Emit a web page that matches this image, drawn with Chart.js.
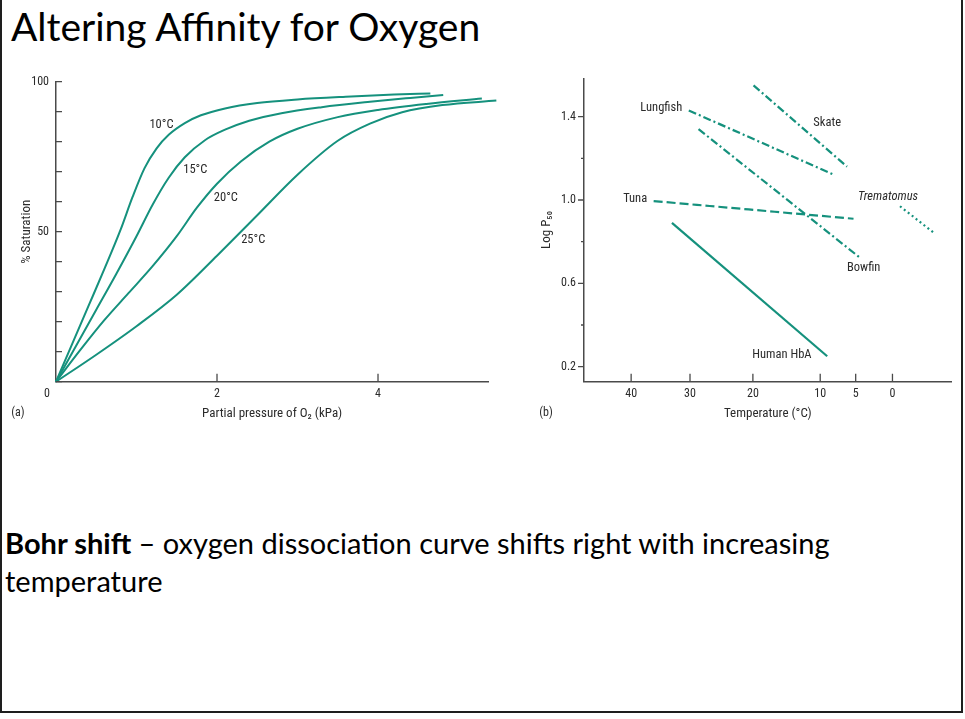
<!DOCTYPE html>
<html>
<head>
<meta charset="utf-8">
<title>Altering Affinity for Oxygen</title>
<script src="https://cdn.jsdelivr.net/npm/chart.js@4.4.1/dist/chart.umd.min.js"></script>
<style>
  html, body { margin: 0; padding: 0; background: #fff; }
  #slide { position: relative; width: 965px; height: 719px; overflow: hidden; background: #fff; }
  #frame { position: absolute; left: 0; top: -10px; width: 963px; height: 723px; box-sizing: border-box;
           border: 2.5px solid #1e1e1e; z-index: 2; }
  #heading { position: absolute; left: 11px; top: 3px; margin: 0; font: 39px/1.2 Lato, 'Open Sans', sans-serif;
             font-weight: normal; color: #000; white-space: nowrap; }
  #note { position: absolute; left: 5px; top: 524px; width: 900px; font: 29px/38px Lato, 'Open Sans', sans-serif; color: #000; }
  #chartA { position: absolute; left: 0; top: 60px; }
  #chartB { position: absolute; left: 520px; top: 60px; }
</style>
</head>
<body>
<div id="slide">
  <div id="frame"></div>
  <h1 id="heading">Altering Affinity for Oxygen</h1>
  <canvas id="chartA" width="520" height="370"></canvas>
  <canvas id="chartB" width="445" height="370"></canvas>
  <div id="note"><b>Bohr shift</b> – oxygen dissociation curve shifts right with increasing temperature</div>
</div>
<script>
// ---- (a) oxygen dissociation curves: partial pressure O2 (kPa) vs % saturation
const pressure10 = [0, 0.2, 0.4, 0.6, 0.8, 0.95, 1.1, 1.25, 1.4, 1.6, 1.8, 2.1, 2.5, 3.0, 3.6, 4.2, 4.65];
const saturation10 = [0, 12.5, 25, 37.5, 50.5, 61.5, 71.2, 77.8, 82.3, 86.2, 88.8, 91.1, 92.9, 94.1, 95.0, 95.7, 96.1];
const pressure15 = [0, 0.25, 0.5, 0.75, 1.0, 1.2, 1.4, 1.6, 1.85, 2.1, 2.4, 2.8, 3.3, 3.9, 4.4, 4.81];
const saturation15 = [0, 12, 24, 36, 48.5, 59, 68, 74.8, 80.5, 84, 87, 89.5, 91.5, 93.3, 94.6, 95.6];
const pressure20 = [0, 0.3, 0.6, 0.9, 1.2, 1.5, 1.75, 2.0, 2.3, 2.65, 3.0, 3.5, 4.0, 4.6, 5.29];
const saturation20 = [0, 10.5, 20.5, 29.5, 38.5, 48.5, 58, 66, 73.5, 80, 84.3, 88.2, 90.6, 92.6, 94.4];
const pressure25 = [0, 0.5, 1.0, 1.5, 2.0, 2.5, 3.0, 3.5, 3.9, 4.3, 4.8, 5.47];
const saturation25 = [0, 9, 18.5, 29, 42, 55.5, 69, 80.3, 86, 89.8, 92.2, 93.7];
const pressureTicks = [0, 2, 4];
const saturationTicks = [0, 10, 20, 30, 40, 50, 60, 70, 80, 90, 100];
const saturationLabelled = [50, 100];

// ---- (b) log P50 vs temperature (axis is reciprocal absolute temperature)
const tempTicks = [40, 30, 20, 10, 5, 0];
const logP50Ticks = [0.2, 0.4, 0.6, 0.8, 1.0, 1.2, 1.4];
const logP50Labelled = [0.2, 0.6, 1.0, 1.4];
const humanTemp = [33, 9];
const humanLogP50 = [0.89, 0.25];
const tunaTemp = [36.1, 5.3];
const tunaLogP50 = [0.995, 0.91];
const lungfishTemp = [30.2, 8.0];
const lungfishLogP50 = [1.43, 1.12];
const bowfinTemp = [28.6, 4.3];
const bowfinLogP50 = [1.34, 0.72];
const skateTemp = [19.9, 6.2];
const skateLogP50 = [1.55, 1.16];
const trematomusTemp = [-1.0, -5.5];
const trematomusLogP50 = [0.97, 0.84];

const TEAL = '#15917d';
const INK = '#2b2b2b';
const AXIS = '#4a4a4a';
const SMALL_FONT = "'Liberation Sans Narrow', 'Roboto Condensed', 'DejaVu Sans Condensed', Roboto, sans-serif";

// 1000/K so that temperature runs along a reciprocal scale
const invT = t => 1000 / (t + 273.15);
const points = (xs, ys, fx) => xs.map((x, i) => ({ x: fx ? fx(x) : x, y: ys[i] }));

function tickMarks(id, cfg) {
    return {
        id: id,
        afterDraw(chart) {
            const { ctx } = chart;
            const xs = chart.scales.x, ys = chart.scales.y;
            ctx.save();
            ctx.strokeStyle = AXIS;
            ctx.lineWidth = 1.3;
            ctx.beginPath();
            xs.ticks.forEach(t => {
                if (cfg.skipX.includes(t.value)) return;
                const px = xs.getPixelForValue(t.value);
                ctx.moveTo(px, ys.bottom);
                ctx.lineTo(px, ys.bottom - cfg.xLen);
            });
            ys.ticks.forEach(t => {
                const major = cfg.yMajor.some(v => Math.abs(v - t.value) < 1e-6);
                const len = major ? cfg.yMajorLen : cfg.yMinorLen;
                const py = ys.getPixelForValue(t.value);
                ctx.moveTo(xs.left, py);
                ctx.lineTo(xs.left + len, py);
            });
            ctx.stroke();
            ctx.restore();
        }
    };
}

function panelText(id, labels, tag, extra) {
    return {
        id: id,
        afterDraw(chart) {
            const { ctx, chartArea } = chart;
            const xs = chart.scales.x, ys = chart.scales.y;
            ctx.save();
            ctx.fillStyle = INK;
            ctx.textAlign = 'center';
            ctx.textBaseline = 'middle';
            labels.forEach(l => {
                ctx.font = (l.italic ? 'italic ' : '') + '12.5px ' + SMALL_FONT;
                ctx.fillText(l.text, xs.getPixelForValue(l.x), ys.getPixelForValue(l.y));
            });
            ctx.font = '12px ' + SMALL_FONT;
            ctx.fillText(tag, chartArea.left - 38, chartArea.bottom + 31);
            if (extra) ctx.fillText(extra, chartArea.left - 9, chartArea.bottom + 12);
            ctx.restore();
        }
    };
}

function curve(xs, ys, fx, dash, width) {
    return {
        data: points(xs, ys, fx),
        borderColor: TEAL,
        borderWidth: width,
        borderDash: dash,
        pointRadius: 0,
        fill: false,
        clip: false,
        cubicInterpolationMode: 'monotone'
    };
}

const tickFont = { family: SMALL_FONT, size: 12 };
const titleFont = { family: SMALL_FONT, size: 13 };

// Panel (a)
new Chart(document.getElementById('chartA').getContext('2d'), {
    type: 'line',
    data: {
        datasets: [
            curve(pressure10, saturation10, null, [], 2),
            curve(pressure15, saturation15, null, [], 2),
            curve(pressure20, saturation20, null, [], 2),
            curve(pressure25, saturation25, null, [], 2)
        ]
    },
    options: {
        responsive: false,
        animation: false,
        events: [],
        layout: { padding: { left: 8, top: 21.7, right: 31.7, bottom: 0 } },
        plugins: { legend: { display: false }, tooltip: { enabled: false } },
        scales: {
            x: {
                type: 'linear',
                min: 0,
                max: 5.37,
                afterBuildTicks: s => { s.ticks = pressureTicks.map(v => ({ value: v })); },
                afterFit: s => { s.height = 48.3; },
                ticks: { font: tickFont, color: INK, padding: 5, maxRotation: 0, autoSkip: false,
                         callback: v => (v === 0 ? '' : String(v)) },
                grid: { display: false, drawTicks: false },
                border: { display: true, color: AXIS, width: 1.5 },
                title: { display: true, text: 'Partial pressure of O₂ (kPa)', color: INK,
                         font: titleFont, padding: { top: 0, bottom: 8 } }
            },
            y: {
                type: 'linear',
                min: 0,
                max: 100,
                afterBuildTicks: s => { s.ticks = saturationTicks.map(v => ({ value: v })); },
                afterFit: s => { s.width = 48; },
                ticks: { font: tickFont, color: INK, padding: 7, autoSkip: false,
                         callback: v => (saturationLabelled.includes(v) ? String(v) : '') },
                grid: { display: false, drawTicks: false },
                border: { display: true, color: AXIS, width: 1.5 },
                title: { display: true, text: '% Saturation', color: INK,
                         font: titleFont, padding: { top: 11, bottom: 0 } }
            }
        }
    },
    plugins: [
        tickMarks('ticksA', { skipX: [0], xLen: 8, yMajor: saturationTicks, yMajorLen: 6, yMinorLen: 6 }),
        panelText('textA', [
            { text: '10°C', x: 1.31, y: 85.6 },
            { text: '15°C', x: 1.73, y: 70.6 },
            { text: '20°C', x: 2.11, y: 61.3 },
            { text: '25°C', x: 2.45, y: 47.2 }
        ], '(a)', '0')
    ]
});

// Panel (b)
new Chart(document.getElementById('chartB').getContext('2d'), {
    type: 'line',
    data: {
        datasets: [
            curve(humanTemp, humanLogP50, invT, [], 2.2),
            curve(tunaTemp, tunaLogP50, invT, [9, 4], 2.2),
            curve(lungfishTemp, lungfishLogP50, invT, [8, 3, 2, 3], 2.2),
            curve(bowfinTemp, bowfinLogP50, invT, [8, 3, 2, 3], 2.2),
            curve(skateTemp, skateLogP50, invT, [8, 3, 2, 3], 2.2),
            curve(trematomusTemp, trematomusLogP50, invT, [2, 3], 2.2)
        ]
    },
    options: {
        responsive: false,
        animation: false,
        events: [],
        layout: { padding: { left: 8, top: 18.3, right: 13.3, bottom: 0 } },
        plugins: { legend: { display: false }, tooltip: { enabled: false } },
        scales: {
            x: {
                type: 'linear',
                min: 3.109,
                max: 3.767,
                afterBuildTicks: s => { s.ticks = tempTicks.map(t => ({ value: invT(t) })); },
                afterFit: s => { s.height = 48.3; },
                ticks: { font: tickFont, color: INK, padding: 5, maxRotation: 0, autoSkip: false,
                         callback: v => String(Math.round(1000 / v - 273.15)) },
                grid: { display: false, drawTicks: false },
                border: { display: true, color: AXIS, width: 1.5 },
                title: { display: true, text: 'Temperature (°C)', color: INK,
                         font: titleFont, padding: { top: 0, bottom: 8 } }
            },
            y: {
                type: 'linear',
                min: 0.128,
                max: 1.584,
                afterBuildTicks: s => { s.ticks = logP50Ticks.map(v => ({ value: v })); },
                afterFit: s => { s.width = 56; },
                ticks: { font: tickFont, color: INK, padding: 8, autoSkip: false,
                         callback: v => (logP50Labelled.some(l => Math.abs(l - v) < 1e-6) ? v.toFixed(1) : '') },
                grid: { display: false, drawTicks: false },
                border: { display: true, color: AXIS, width: 1.5 },
                title: { display: true, text: 'Log P₅₀', color: INK,
                         font: titleFont, padding: { top: 11, bottom: 0 } }
            }
        }
    },
    plugins: [
        tickMarks('ticksB', { skipX: [], xLen: 8, yMajor: logP50Labelled, yMajorLen: -6, yMinorLen: -3 }),
        panelText('textB', [
            { text: 'Lungfish', x: invT(34.8), y: 1.44 },
            { text: 'Skate', x: invT(9.0), y: 1.368 },
            { text: 'Tuna', x: invT(39.3), y: 1.003 },
            { text: 'Trematomus', x: invT(0.6), y: 1.016, italic: true },
            { text: 'Bowfin', x: invT(3.9), y: 0.672 },
            { text: 'Human HbA', x: invT(15.6), y: 0.256 }
        ], '(b)', null)
    ]
});
</script>
</body>
</html>
